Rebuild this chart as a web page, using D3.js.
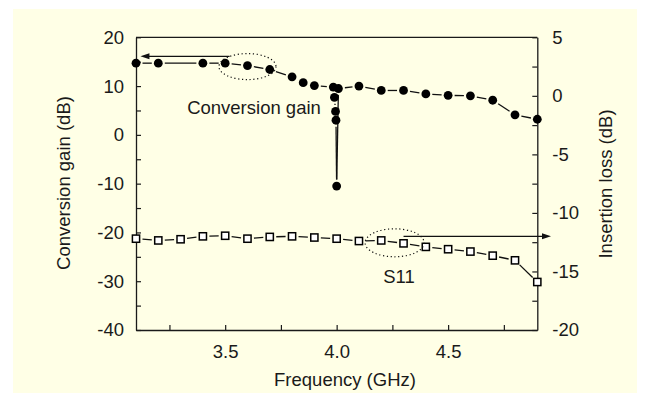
<!DOCTYPE html>
<html>
<head>
<meta charset="utf-8">
<script src="https://cdn.jsdelivr.net/npm/d3@7"></script>
<style>
  html, body { margin: 0; padding: 0; background: #ffffff; }
  svg { display: block; }
  text { font-family: "Liberation Sans", Arial, sans-serif; fill: #1a1a1a; }
</style>
</head>
<body>
<script>
// ---- data ----
const cgFreq = [3.1, 3.2, 3.4, 3.5, 3.6, 3.7, 3.8, 3.85, 3.9, 3.985, 3.99, 3.995, 3.997, 4.0, 4.008, 4.1, 4.2, 4.3, 4.4, 4.5, 4.6, 4.7, 4.8, 4.9];
const cgGain = [14.7, 14.7, 14.7, 14.7, 14.2, 13.4, 11.9, 10.7, 10.1, 9.8, 7.7, 4.8, 3.0, -10.5, 9.5, 10.0, 9.1, 9.1, 8.4, 8.1, 8.0, 7.1, 4.1, 3.2];
const s11Freq = [3.1, 3.2, 3.3, 3.4, 3.5, 3.6, 3.7, 3.8, 3.9, 4.0, 4.1, 4.2, 4.3, 4.4, 4.5, 4.6, 4.7, 4.8, 4.9];
const s11Loss = [-12.2, -12.35, -12.25, -12.0, -11.95, -12.2, -12.05, -12.0, -12.1, -12.2, -12.4, -12.35, -12.6, -12.9, -13.1, -13.3, -13.65, -14.05, -15.9];
const xTicks = [3.25, 3.5, 3.75, 4.0, 4.25, 4.5, 4.75];
const xLabels = [3.5, 4.0, 4.5];
const yLeftTicks = [-40, -35, -30, -25, -20, -15, -10, -5, 0, 5, 10, 15, 20];
const yRightTicks = [-20, -17.5, -15, -12.5, -10, -7.5, -5, -2.5, 0, 2.5, 5];

const W = 650, H = 403;
const L = 136, R = 537.3, T = 37.3, B = 330;

const svg = d3.select("body").append("svg").attr("width", W).attr("height", H);
svg.append("rect").attr("x", 13).attr("y", 9).attr("width", 624).attr("height", 384).attr("fill", "#FFFFE6");

const x = d3.scaleLinear().domain([3.1, 4.9]).range([L, R]);
const yL = d3.scaleLinear().domain([-40, 20]).range([B, T]);
const yR = d3.scaleLinear().domain([-20, 5]).range([B, T]);

const FS = "18.5px";

// axes
const xAxis = d3.axisBottom(x).tickValues(xTicks).tickSize(-5).tickSizeOuter(0).tickPadding(15)
  .tickFormat(d => xLabels.includes(d) ? d.toFixed(1) : "");
const lAxis = d3.axisLeft(yL).tickValues(yLeftTicks).tickSize(-5).tickSizeOuter(0).tickPadding(12)
  .tickFormat(d => d % 10 === 0 ? String(d) : "");
const rAxis = d3.axisRight(yR).tickValues(yRightTicks).tickSize(-5).tickSizeOuter(0).tickPadding(15)
  .tickFormat(d => d % 5 === 0 ? String(d) : "");

function styleAxis(g) {
  g.selectAll("path.domain").attr("stroke", "#1a1a1a").attr("stroke-width", 1.3);
  g.selectAll(".tick line").attr("stroke", "#1a1a1a").attr("stroke-width", 1.2);
  g.selectAll(".tick text").style("font-size", FS).attr("fill", "#1a1a1a")
    .style("font-family", '"Liberation Sans", Arial, sans-serif');
}
svg.append("g").attr("transform", `translate(0,${B})`).call(xAxis).call(styleAxis);
svg.append("g").attr("transform", `translate(${L},0)`).call(lAxis).call(styleAxis);
svg.append("g").attr("transform", `translate(${R},0)`).call(rAxis).call(styleAxis);
svg.append("line").attr("x1", L).attr("x2", R).attr("y1", T).attr("y2", T)
  .attr("stroke", "#1a1a1a").attr("stroke-width", 1.3);

// axis titles
svg.append("text").attr("x", 345).attr("y", 386).attr("text-anchor", "middle")
  .style("font-size", FS).text("Frequency (GHz)");
svg.append("text").attr("transform", "translate(70,183) rotate(-90)").attr("text-anchor", "middle")
  .style("font-size", FS).text("Conversion gain (dB)");
svg.append("text").attr("transform", "translate(612,184) rotate(-90)").attr("text-anchor", "middle")
  .style("font-size", FS).text("Insertion loss (dB)");

// gapped segments helper
function gapped(pts, gap) {
  const g = svg.append("g");
  for (let i = 0; i < pts.length - 1; i++) {
    const [x1, y1] = pts[i], [x2, y2] = pts[i + 1];
    const dx = x2 - x1, dy = y2 - y1, d = Math.hypot(dx, dy);
    if (d <= 2 * gap) continue;
    const ux = dx / d, uy = dy / d;
    g.append("line")
      .attr("x1", x1 + ux * gap).attr("y1", y1 + uy * gap)
      .attr("x2", x2 - ux * gap).attr("y2", y2 - uy * gap)
      .attr("stroke", "#111").attr("stroke-width", 1.3);
  }
}

const cgPts = cgFreq.map((f, i) => [x(f), yL(cgGain[i])]);
const s11Pts = s11Freq.map((f, i) => [x(f), yR(s11Loss[i])]);

gapped(cgPts, 6.5);
gapped(s11Pts, 6.5);

svg.append("g").selectAll("circle").data(cgPts).join("circle")
  .attr("cx", d => d[0]).attr("cy", d => d[1]).attr("r", 4.4).attr("fill", "#000");
svg.append("g").selectAll("rect").data(s11Pts).join("rect")
  .attr("x", d => d[0] - 3.6).attr("y", d => d[1] - 3.6).attr("width", 7.2).attr("height", 7.2)
  .attr("fill", "#fff").attr("stroke", "#000").attr("stroke-width", 1.5);

// annotations
svg.append("ellipse").attr("cx", x(3.6)).attr("cy", yL(14.0)).attr("rx", 28.5).attr("ry", 13)
  .attr("fill", "none").attr("stroke", "#111").attr("stroke-width", 1.2).attr("stroke-dasharray", "1.2,2.6");
svg.append("ellipse").attr("cx", x(4.26)).attr("cy", yR(-12.55)).attr("rx", 29.5).attr("ry", 14)
  .attr("fill", "none").attr("stroke", "#111").attr("stroke-width", 1.2).attr("stroke-dasharray", "1.2,2.6");

function arrow(x1, y, x2) {
  const dir = Math.sign(x2 - x1);
  svg.append("line").attr("x1", x1).attr("y1", y).attr("x2", x2 - dir * 7).attr("y2", y)
    .attr("stroke", "#111").attr("stroke-width", 1.2);
  svg.append("path").attr("d", `M${x2},${y} L${x2 - dir * 9},${y - 3} L${x2 - dir * 9},${y + 3} Z`).attr("fill", "#111");
}
arrow(x(3.52), yL(16.1), x(3.12));
arrow(x(4.3), yR(-12.0), 551);

svg.append("text").attr("x", 254).attr("y", 114).attr("text-anchor", "middle")
  .style("font-size", FS).text("Conversion gain");
svg.append("text").attr("x", 399).attr("y", 283).attr("text-anchor", "middle")
  .style("font-size", FS).text("S11");
</script>
</body>
</html>
